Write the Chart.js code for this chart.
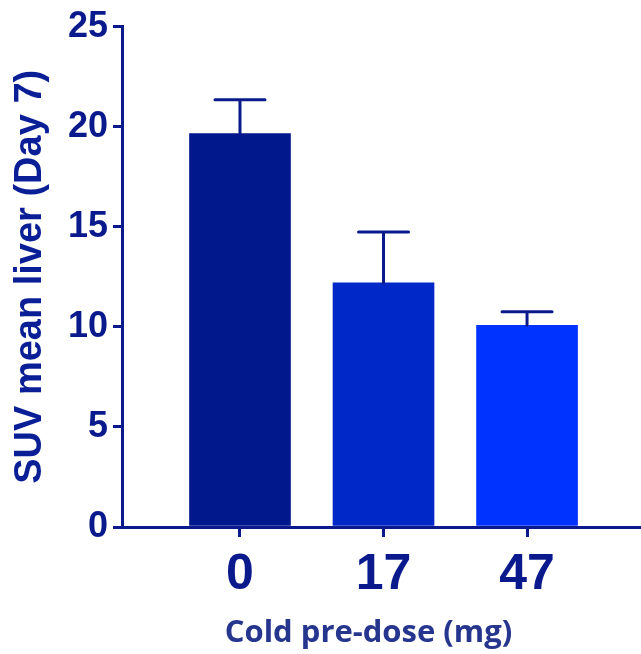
<!DOCTYPE html>
<html>
<head>
<meta charset="utf-8">
<script src="https://cdn.jsdelivr.net/npm/chart.js@4.4.1/dist/chart.umd.min.js"></script>
<style>
  html, body { margin: 0; padding: 0; background: #fff; }
  #wrap { width: 641px; height: 654px; }
</style>
</head>
<body>
<div id="wrap"><canvas id="grafico" width="641" height="654"></canvas></div>
<script>
// dados
const doses = ["0", "17", "47"];
const suvMedio = [19.66, 12.2, 10.08];
const erroSup = [1.69, 2.54, 0.68];
const coresBarras = ["#00188c", "#0028c8", "#0033ff"];
const yTicks = [0, 5, 10, 15, 20, 25];

const azulEixo = "#0a1a8c";

// barras de erro (so para cima)
const barrasErro = {
  id: "barrasErro",
  afterDatasetsDraw(chart) {
    const ctx = chart.ctx;
    const y = chart.scales.y;
    const meta = chart.getDatasetMeta(0);
    ctx.save();
    ctx.strokeStyle = azulEixo;
    ctx.lineWidth = 3;
    ctx.lineCap = "round";
    meta.data.forEach((bar, i) => {
      const topo = y.getPixelForValue(suvMedio[i] + erroSup[i]);
      ctx.beginPath();
      ctx.moveTo(bar.x, bar.y);
      ctx.lineTo(bar.x, topo);
      ctx.moveTo(bar.x - 25, topo);
      ctx.lineTo(bar.x + 25, topo);
      ctx.stroke();
    });
    ctx.restore();
  }
};

// titulo do eixo x, um pouco a esquerda do centro como no original
const tituloX = {
  id: "tituloX",
  afterDraw(chart) {
    const ctx = chart.ctx;
    const area = chart.chartArea;
    ctx.save();
    ctx.fillStyle = "#26368f";
    ctx.font = "bold 31px 'Open Sans'";
    ctx.textAlign = "center";
    ctx.textBaseline = "middle";
    ctx.fillText("Cold pre-dose (mg)", (area.left + area.right) / 2 - 13, 633);
    ctx.restore();
  }
};

new Chart(document.getElementById("grafico"), {
  type: "bar",
  data: {
    datasets: [{
      data: suvMedio.map((v, i) => ({ x: i, y: v })),
      backgroundColor: coresBarras,
      barThickness: 101,
      borderWidth: 0
    }]
  },
  options: {
    responsive: false,
    animation: false,
    layout: { padding: { top: 25, left: 0, right: 0, bottom: 0 } },
    plugins: { legend: { display: false }, tooltip: { enabled: false } },
    scales: {
      x: {
        type: "linear",
        min: -0.822,
        max: 2.794,
        offset: false,
        afterBuildTicks: (s) => { s.ticks = doses.map((_, i) => ({ value: i })); },
        afterFit: (s) => { s.height = 127; },
        ticks: {
          callback: (v) => doses[v],
          color: azulEixo,
          padding: 8,
          maxRotation: 0,
          font: { family: "'Liberation Sans Narrow', 'Liberation Sans', Arial", weight: "bold", size: 50 }
        },
        grid: { offset: false, drawOnChartArea: false, drawTicks: true, tickLength: 10, color: azulEixo, lineWidth: 3 },
        border: { display: true, color: azulEixo, width: 3 }
      },
      y: {
        min: 0,
        max: 25,
        afterBuildTicks: (s) => { s.ticks = yTicks.map(v => ({ value: v })); },
        afterFit: (s) => { s.width = 122; },
        ticks: {
          color: azulEixo,
          padding: 5,
          font: { family: "'Liberation Sans', Arial", weight: "bold", size: 36 }
        },
        grid: { drawOnChartArea: false, drawTicks: true, tickLength: 9, color: azulEixo, lineWidth: 3 },
        border: { display: true, color: azulEixo, width: 3 },
        title: {
          display: true,
          text: "SUV mean liver (Day 7)",
          color: "#0a1f96",
          padding: { top: 8, bottom: 0 },
          font: { family: "'Liberation Sans', Arial", weight: "bold", size: 38 }
        }
      }
    }
  },
  plugins: [barrasErro, tituloX]
});
</script>
</body>
</html>
